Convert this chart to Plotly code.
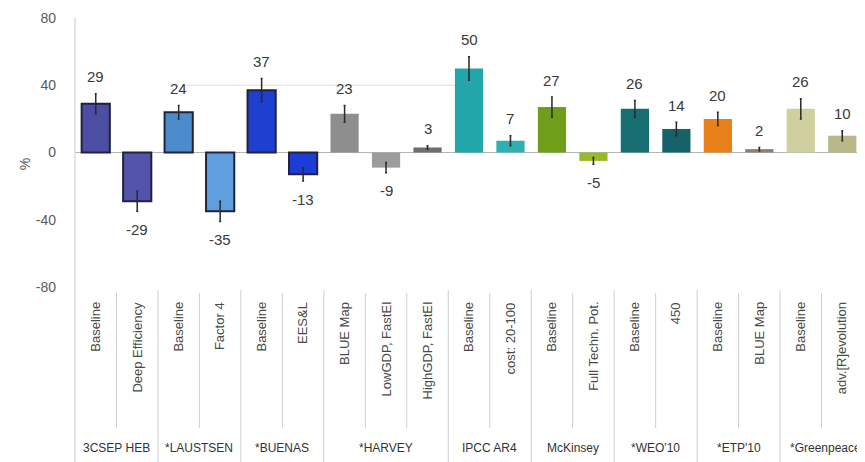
import plotly.graph_objects as go

categories = ["Baseline", "Deep Efficiency", "Baseline", "Factor 4", "Baseline", "EES&L",
              "BLUE Map", "LowGDP, FastEI", "HighGDP, FastEI", "Baseline", "cost: 20-100",
              "Baseline", "Full Techn. Pot.", "Baseline", "450", "Baseline", "BLUE Map",
              "Baseline", "adv.[R]evolution"]
values = [29, -29, 24, -35, 37, -13, 23, -9, 3, 50, 7, 27, -5, 26, 14, 20, 2, 26, 10]
errors = [6, 6, 4, 6, 7, 4, 5, 3, 1, 7, 3, 6, 2, 5, 4, 4, 1, 6, 3]
groups = ["3CSEP HEB", "*LAUSTSEN", "*BUENAS", "*HARVEY", "IPCC AR4", "McKinsey",
          "*WEO'10", "*ETP'10", "*Greenpeace"]
group_sizes = [2, 2, 2, 3, 2, 2, 2, 2, 2]
colors = ["#4b4ea3", "#5254ac", "#4d8ccc", "#5f9fe0", "#1f3fd0", "#1d3cd6",
          "#8e8e8e", "#9c9c9c", "#6e6e6e", "#22a6a9", "#2fb0b0", "#6e9e1a",
          "#9ab82a", "#176e70", "#15626a", "#e8801a", "#8a8270", "#cfcfa0", "#b8b888"]
border = ["#22223a"] * 6 + ["rgba(0,0,0,0)"] * 13
ytick_vals = [-80, -40, 0, 40, 80]
ytick_text = ["-80", "-40", "0", "40", "80"]
y_title = "%"

FONT = "Liberation Sans Narrow, Arial Narrow, Liberation Sans, Arial, sans-serif"
xs = list(range(len(categories)))

fig = go.Figure(go.Bar(
    x=xs, y=values,
    marker=dict(color=colors, line=dict(color=border, width=2)),
    error_y=dict(type="data", array=errors, visible=True, color="#2a2a2a",
                 thickness=1.5, width=1),
    width=0.68,
))

annotations = []
for i, (v, e) in enumerate(zip(values, errors)):
    if v >= 0:
        annotations.append(dict(x=i, y=v + e, xref="x", yref="y", text=str(v),
                                showarrow=False, yanchor="middle", yshift=17,
                                font=dict(size=15, color="#3a3a3a", family=FONT)))
    else:
        annotations.append(dict(x=i, y=v - e, xref="x", yref="y", text=str(v),
                                showarrow=False, yanchor="middle", yshift=-18,
                                font=dict(size=15, color="#3a3a3a", family=FONT)))
    annotations.append(dict(x=i, y=-0.048, xref="x", yref="paper", text=categories[i],
                            showarrow=False, textangle=-90, xanchor="center", yanchor="top",
                            font=dict(size=13, color="#4a4a4a", family=FONT)))

shapes = []
start = 0
for gi, (g, n) in enumerate(zip(groups, group_sizes)):
    center = start + (n - 1) / 2
    if gi == len(groups) - 1:
        annotations.append(dict(x=start + n - 0.5, y=-0.6, xref="x", yref="paper", text=g,
                                showarrow=False, xanchor="right", yanchor="middle",
                                font=dict(size=12, color="#333333", family=FONT)))
    else:
        annotations.append(dict(x=center, y=-0.6, xref="x", yref="paper", text=g,
                                showarrow=False, xanchor="center", yanchor="middle",
                                font=dict(size=12, color="#333333", family=FONT)))
    for k in range(n - 1):
        xd = start + k + 0.5
        shapes.append(dict(type="line", xref="x", yref="paper", x0=xd, x1=xd,
                           y0=-0.022, y1=-0.524, line=dict(color="#cfcfcf", width=1)))
    end = start + n - 0.5
    shapes.append(dict(type="line", xref="x", yref="paper", x0=end, x1=end,
                       y0=-0.011, y1=-0.7, line=dict(color="#cfcfcf", width=1)))
    start += n

# y-axis title placed slightly below zero as in the reference
annotations.append(dict(x=0, y=-7, xref="paper", yref="y", text=y_title, showarrow=False,
                        textangle=-90, xanchor="center", yanchor="middle", xshift=-50,
                        font=dict(size=14, color="#555555", family=FONT)))

# axis line extension into label area
shapes.append(dict(type="line", xref="paper", yref="paper", x0=0, x1=0,
                   y0=1, y1=-0.7, line=dict(color="#c8c8c8", width=1)))
# faint partial gridline at 40
shapes.append(dict(type="line", xref="x", yref="y", x0=2.2, x1=8.8, y0=40, y1=40,
                   line=dict(color="#e8dada", width=1), layer="below"))

fig.update_layout(
    width=857, height=454,
    margin=dict(l=67, r=2, t=10, b=175),
    paper_bgcolor="white", plot_bgcolor="white",
    showlegend=False,
    bargap=0.32,
    annotations=annotations,
    shapes=shapes,
    xaxis=dict(range=[-0.5, 18.5], showticklabels=False, showgrid=False,
               zeroline=False, showline=False, fixedrange=True),
    yaxis=dict(range=[-80, 80], tickvals=ytick_vals, ticktext=ytick_text, showgrid=False,
               zeroline=True, zerolinecolor="#b5b5b5", zerolinewidth=1,
               showline=False, ticks="", ticklabelstandoff=18,
               tickfont=dict(size=14, color="#5a5a5a", family=FONT)),
    font=dict(family=FONT),
)

fig.write_html("out.html")
